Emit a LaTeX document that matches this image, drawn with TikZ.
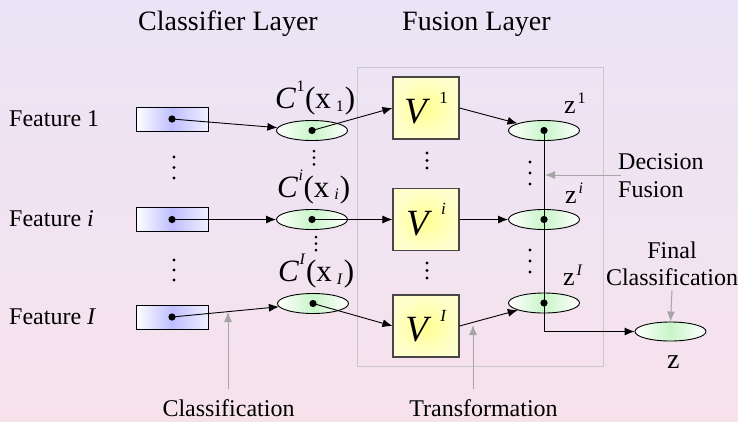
\documentclass[tikz,border=0pt]{standalone}
\usepackage{fontspec}
\setmainfont{Liberation Serif}
\usetikzlibrary{arrows.meta,shapes.geometric}
\definecolor{bgtop}{RGB}{234,228,246}
\definecolor{bgbot}{RGB}{247,226,236}
\definecolor{cellgreen}{RGB}{200,245,200}
\definecolor{featblue}{RGB}{190,190,255}
\definecolor{featright}{RGB}{240,240,255}
\definecolor{vyelin}{RGB}{255,255,145}
\definecolor{vyelout}{RGB}{255,255,205}
\definecolor{annot}{RGB}{165,165,165}
\definecolor{fusegray}{RGB}{200,200,200}
\definecolor{vedge}{RGB}{70,70,70}
\newcommand{\fs}[1]{\fontsize{#1}{#1}\selectfont}
\newcommand{\supr}[3]{\raisebox{#1}{\fs{#2}#3}}
\newcommand{\Clab}[2]{\fs{31}\textit{C}\kern0.5pt\supr{17pt}{16}{#1}\kern0.5pt(x\kern5pt\supr{-2.7pt}{16}{#2}\kern1pt)}
\newcommand{\Vlab}[1]{\fs{37}\textit{V}\kern9pt\supr{20.5pt}{17}{#1}}
\newcommand{\Zlab}[1]{\fs{26}z\kern2pt\supr{10pt}{16}{#1}}
\tikzset{
  featbox/.style={draw=black, line width=0.9pt, minimum width=72pt, minimum height=24pt, inner sep=0pt,
    left color=white, right color=featright, middle color=featblue},
  cell/.style={ellipse, draw=black, line width=0.9pt, minimum width=71pt, minimum height=20pt, inner sep=0pt,
    left color=white, right color=white, middle color=cellgreen},
  vbox/.style={draw=vedge, line width=1.1pt, minimum width=66pt, minimum height=62pt, inner sep=0pt,
    inner color=vyelin, outer color=vyelout},
  fusebox/.style={draw=fusegray, line width=1pt, minimum width=246pt, minimum height=299pt, inner sep=0pt},
  arr/.style={-{Latex[length=10pt,width=8pt]}, line width=0.9pt},
  garr/.style={-{Latex[length=10pt,width=8pt]}, line width=1pt, draw=annot, fill=annot},
  txt/.style={inner sep=0pt, font=\fs{24}},
  head/.style={inner sep=0pt, font=\fs{28}},
  lab/.style={inner sep=0pt}
}
\begin{document}
\begin{tikzpicture}[x=1pt,y=-1pt]
\useasboundingbox (0,0) rectangle (738,421);
\shade[top color=bgtop, bottom color=bgbot] (0,0) rectangle (738,421);

% headings
\node[head, anchor=base west] (hcl) at (138,30) {Classifier Layer};
\node[head, anchor=base west] (hfu) at (402,30) {Fusion Layer};

% fusion layer frame
\node[fusebox] (fusion) at (480,216.5) {};

% feature labels
\node[txt, anchor=base west] (lf1) at (9,126.7) {Feature 1};
\node[txt, anchor=base west] (lfi) at (9,226.5) {Feature \textit{i}};
\node[txt, anchor=base west] (lfI) at (9,324.5) {Feature \textit{I}};

% feature boxes
\node[featbox] (f1) at (172,119) {};
\node[featbox] (fi) at (172,219.5) {};
\node[featbox] (fI) at (172,317) {};

% classifier cells
\node[cell] (c1) at (312,130.5) {};
\node[cell] (ci) at (312,219.5) {};
\node[cell] (cI) at (313,303.5) {};
\node[lab, anchor=base west] (lc1) at (275,108.3) {\Clab{1}{1}};
\node[lab, anchor=base west] (lci) at (277,197) {\Clab{\textit{i}}{\textit{i}}};
\node[lab, anchor=base west] (lcI) at (278,281.5) {\Clab{\textit{I}}{\textit{I}}};

% transformation boxes
\node[vbox] (v1) at (426,108) {\Vlab{1}};
\node[vbox] (vi) at (426,219.5) {\Vlab{\textit{i}}};
\node[vbox] (vI) at (426,326) {\Vlab{\textit{I}}};

% fusion cells
\node[cell] (z1) at (544,130.5) {};
\node[cell] (zi) at (544,219.5) {};
\node[cell] (zI) at (544,303) {};
\node[lab, anchor=base west] (lz1) at (564,113) {\Zlab{1}};
\node[lab, anchor=base west] (lzi) at (565,203.3) {\Zlab{\textit{i}}};
\node[lab, anchor=base west] (lzI) at (563,285) {\Zlab{\textit{I}}};

% final cell
\node[cell, minimum height=19pt] (zf) at (670.5,331.5) {};
\node[lab, anchor=base west, font=\fs{28}] (lzf) at (667,368) {z};

% connectors
\draw[arr] (f1.center) -- (c1);
\draw[arr] (fi.center) -- (ci);
\draw[arr] (fI.center) -- (cI);
\draw[arr] (c1.center) -- (v1.west);
\draw[arr] (ci.center) -- (vi.west);
\draw[arr] (cI.center) -- (vI.west);
\draw[arr] (v1.east) -- (z1);
\draw[arr] (vi.east) -- (zi);
\draw[arr] (vI.east) -- (zI);
\draw[arr] (z1.center) |- (zf);

% dots
\foreach \n in {f1,fi,fI,c1,ci,cI,z1,zi,zI}
  \fill (\n.center) circle (3.6pt);

% vertical ellipses
\foreach \x/\y in {174/157,174/167.5,174/178, 174/260,174/270,174/280,
                   427/153,427/160.5,427/168, 427/263,427/270.5,427/278,
                   530/162,530/173,530/184, 530/250,530/261,530/272}
  \fill (\x,\y) circle (1.7pt);
\foreach \x/\y in {314/151,314/157.7,314/164.3, 316/237,316/243.5,316/250}
  \fill (\x,\y) circle (1.5pt);

% annotations
\node[txt, anchor=base] (cls) at (228.5,416.7) {Classification};
\node[txt, anchor=base] (trf) at (483.5,416.7) {Transformation};
\node[txt, anchor=base west] (dec) at (618,169) {Decision};
\node[txt, anchor=base west] (fus) at (618,197) {Fusion};
\node[txt, anchor=base] (fin) at (672,258.3) {Final};
\node[txt, anchor=base] (fcl) at (672,285) {Classification};

\coordinate (clsA) at (228,312);
\coordinate (trfA) at (473,325);
\coordinate (decA) at (545,175);

\draw[garr] (cls.north -| clsA) ++(0,-11) -- (clsA);
\draw[garr] (trf.north -| trfA) ++(0,-11) -- (trfA);
\draw[garr] (decA -| dec.west) ++(3,0) -- (decA);
\draw[garr] (fcl.south) ++(0,5) -- (zf.north);
\end{tikzpicture}
\end{document}
